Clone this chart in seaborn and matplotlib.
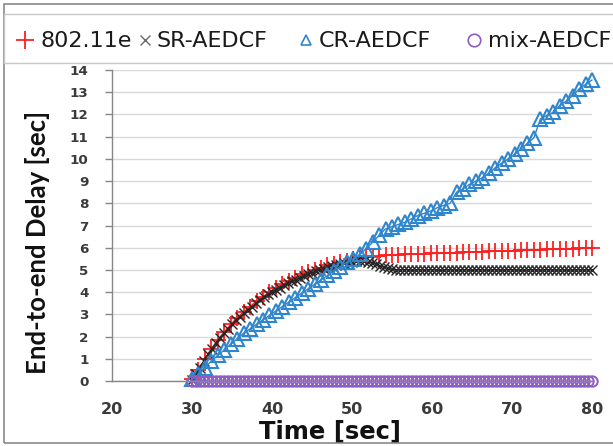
import numpy as np
import matplotlib
matplotlib.use("Agg")
import matplotlib.pyplot as plt
from matplotlib.lines import Line2D
from matplotlib.patches import Rectangle
import seaborn as sns

# Sampling instants [sec]
time_fast = np.linspace(30, 80, 63)       # 802.11e and CR-AEDCF
time_dense = np.arange(30, 80.01, 0.5)    # SR-AEDCF and mix-AEDCF

# End-to-end delay [sec]
delay_80211e = [
    0.10, 0.50, 1.00, 1.45, 1.85, 2.20, 2.55, 2.85, 3.10, 3.35,
    3.60, 3.80, 4.00, 4.20, 4.35, 4.50, 4.65, 4.80, 4.90, 5.00,
    5.10, 5.20, 5.28, 5.35, 5.42, 5.47, 5.52, 5.56, 5.60, 5.62,
    5.65, 5.67, 5.68, 5.70, 5.71, 5.72, 5.73, 5.74, 5.74, 5.76,
    5.77, 5.78, 5.79, 5.80, 5.80, 5.82, 5.83, 5.84, 5.85, 5.86,
    5.86, 5.88, 5.89, 5.90, 5.91, 5.92, 5.93, 5.94, 5.95, 5.96,
    5.98, 5.99, 6.00,
]
delay_cr = [
    0.10, 0.30, 0.60, 0.90, 1.15, 1.40, 1.65, 1.90, 2.15, 2.35,
    2.55, 2.75, 2.95, 3.15, 3.35, 3.55, 3.75, 3.95, 4.15, 4.35,
    4.55, 4.75, 4.95, 5.15, 5.35, 5.50, 5.70, 5.95, 6.25, 6.55,
    6.85, 6.95, 7.05, 7.15, 7.30, 7.45, 7.55, 7.65, 7.80, 7.90,
    8.00, 8.50, 8.65, 8.85, 9.00, 9.15, 9.35, 9.60, 9.80, 10.00,
    10.20, 10.45, 10.70, 10.95, 11.80, 11.95, 12.10, 12.40, 12.60, 12.85,
    13.15, 13.35, 13.55,
]
delay_sr = [
    0.05, 0.30, 0.60, 0.90, 1.20, 1.45, 1.70, 1.95, 2.15, 2.35,
    2.55, 2.75, 2.90, 3.05, 3.20, 3.35, 3.50, 3.65, 3.78, 3.90,
    4.00, 4.10, 4.20, 4.30, 4.40, 4.48, 4.56, 4.64, 4.72, 4.80,
    4.87, 4.94, 5.00, 5.06, 5.12, 5.17, 5.22, 5.26, 5.30, 5.33,
    5.36, 5.38, 5.40, 5.40, 5.37, 5.32, 5.25, 5.18, 5.12, 5.07,
    5.03, 5.00, 4.99, 5.01, 5.00, 4.98, 5.00, 5.01, 4.99, 5.00,
    5.01, 5.00, 4.98, 4.99, 5.01, 5.00, 5.00, 4.99, 5.01, 5.00,
    4.98, 5.00, 5.01, 5.00, 4.99, 5.00, 5.01, 4.99, 5.00, 5.00,
    5.01, 4.99, 5.00, 4.98, 5.00, 5.01, 5.00, 4.99, 5.00, 5.01,
    5.00, 4.99, 5.00, 5.01, 4.98, 5.00, 5.00, 5.01, 4.99, 5.00,
    5.00,
]
delay_mix = [
    0.0, 0.0, 0.0, 0.0, 0.0, 0.0, 0.0, 0.0, 0.0, 0.0,
    0.0, 0.0, 0.0, 0.0, 0.0, 0.0, 0.0, 0.0, 0.0, 0.0,
    0.0, 0.0, 0.0, 0.0, 0.0, 0.0, 0.0, 0.0, 0.0, 0.0,
    0.0, 0.0, 0.0, 0.0, 0.0, 0.0, 0.0, 0.0, 0.0, 0.0,
    0.0, 0.0, 0.0, 0.0, 0.0, 0.0, 0.0, 0.0, 0.0, 0.0,
    0.0, 0.0, 0.0, 0.0, 0.0, 0.0, 0.0, 0.0, 0.0, 0.0,
    0.0, 0.0, 0.0, 0.0, 0.0, 0.0, 0.0, 0.0, 0.0, 0.0,
    0.0, 0.0, 0.0, 0.0, 0.0, 0.0, 0.0, 0.0, 0.0, 0.0,
    0.0, 0.0, 0.0, 0.0, 0.0, 0.0, 0.0, 0.0, 0.0, 0.0,
    0.0, 0.0, 0.0, 0.0, 0.0, 0.0, 0.0, 0.0, 0.0, 0.0,
    0.0,
]

series_names = ["802.11e", "SR-AEDCF", "CR-AEDCF", "mix-AEDCF"]
x_ticks = [20, 30, 40, 50, 60, 70, 80]
y_ticks = list(range(0, 15))

# name -> (time, values, colour, marker, size, edge width, hollow)
styles = {
    "802.11e":   (time_fast,  delay_80211e, "#ff2020", "+", 11, 1.3, False),
    "SR-AEDCF":  (time_dense, delay_sr,     "#262626", "x", 6.5, 1.0, False),
    "CR-AEDCF":  (time_fast,  delay_cr,     "#2f86cc", "^", 9.5, 1.5, True),
    "mix-AEDCF": (time_dense, delay_mix,    "#8f5cc4", "o", 7.5, 1.4, True),
}

sns.set_style("white")
plt.rcParams["font.family"] = ["DejaVu Sans"]

W, H = 613, 446
fig = plt.figure(figsize=(W / 100, H / 100), dpi=100)
ax = fig.add_axes([112 / W, 65 / H, 480 / W, 311 / H])

for name in series_names:
    t, v, col, mk, ms, mew, hollow = styles[name]
    sns.lineplot(
        x=t, y=v, ax=ax, color=col, linewidth=1.0, estimator=None,
        marker=mk, markersize=ms, markeredgewidth=mew,
        markeredgecolor=col, markerfacecolor="none" if hollow else col,
        clip_on=False, legend=False,
    )

ax.set_xlim(20, 80)
ax.set_ylim(0, 14)
ax.set_xticks(x_ticks)
ax.set_yticks(y_ticks)
ax.grid(axis="y", color="#d9d9d9", linewidth=1)
ax.grid(axis="x", visible=False)
ax.set_axisbelow(True)
for side in ("top", "right"):
    ax.spines[side].set_visible(False)
for side in ("left", "bottom"):
    ax.spines[side].set_color("#868686")
    ax.spines[side].set_linewidth(1)

ax.tick_params(axis="y", length=5, width=1, color="#868686", pad=12,
               labelsize=9.7, labelcolor="#3a3a3a", left=True)
ax.tick_params(axis="x", length=0, pad=15, labelsize=11.5, labelcolor="#3a3a3a")
for lbl in ax.get_xticklabels() + ax.get_yticklabels():
    lbl.set_fontweight("bold")

ax.set_xlabel("Time [sec]", fontsize=17.5, fontweight="bold", color="#111111")
ax.xaxis.set_label_coords((330 - 112) / 480, -(420 - 381) / 311)
ax.set_ylabel("End-to-end Delay [sec]", fontsize=18.5, fontweight="bold",
              color="#111111", family=["Lato", "DejaVu Sans"])
ax.yaxis.set_label_coords((50 - 112) / 480, (381 - 242) / 311)

# Chart frame and legend box
fig.add_artist(Rectangle((4 / W, 1 - 443 / H), 1.2, 439 / H, transform=fig.transFigure,
                         fill=False, edgecolor="#8a8a8a", linewidth=1.2))
fig.add_artist(Rectangle((4 / W, 1 - 63 / H), 1.2, 49 / H, transform=fig.transFigure,
                         fill=False, edgecolor="#c8c8c8", linewidth=1))

# Legend entries: marker only, followed by series name
legend_marker_x = [25, 145, 306, 474]
legend_text_x = [40, 156, 319, 488]
legend_marker = {
    "802.11e":   ("+", 13, 1.3, "#ff2020", False),
    "SR-AEDCF":  ("x", 7, 1.0, "#6a6a6a", False),
    "CR-AEDCF":  ("^", 7, 1.2, "#2f86cc", True),
    "mix-AEDCF": ("o", 9, 1.2, "#8f5cc4", True),
}
for name, mx, tx in zip(series_names, legend_marker_x, legend_text_x):
    mk, ms, mew, col, hollow = legend_marker[name]
    fig.add_artist(Line2D([mx / W], [1 - 40 / H], transform=fig.transFigure,
                          marker=mk, markersize=ms, markeredgewidth=mew,
                          markeredgecolor=col,
                          markerfacecolor="none" if hollow else col,
                          linestyle="none"))
    fig.text(tx / W, 1 - 47 / H, name, fontsize=16, color="#1a1a1a",
             ha="left", va="baseline")

fig.savefig("out.png", dpi=100)
